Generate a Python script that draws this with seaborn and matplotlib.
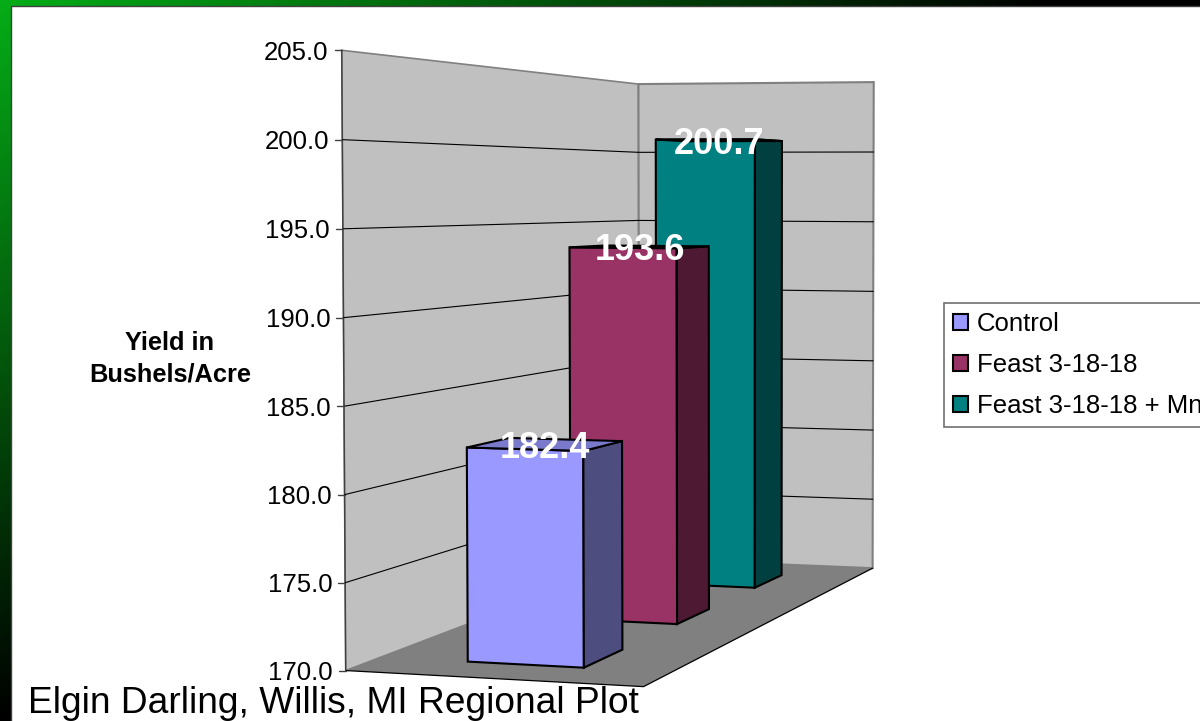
import numpy as np
import pandas as pd
import matplotlib
matplotlib.use('Agg')
import matplotlib.pyplot as plt
from matplotlib.transforms import Transform
import seaborn as sns

# Chart data
series = ['Control', 'Feast 3-18-18', 'Feast 3-18-18 + Mn']
yields = [182.4, 193.6, 200.7]
ticks = [170, 175, 180, 185, 190, 195, 200, 205]
front_colors = ['#9999FF', '#993366', '#008080']
side_colors = ['#4D4D80', '#4D1933', '#004040']
top_colors = ['#7A7ACC', '#7A2952', '#006666']
bar_depth_start = [0.095, 0.428, 0.762]

VMIN, VMAX = ticks[0], ticks[-1]
BAR_DEPTH = 0.13
BAR_WIDTH = 0.4
BAR_CENTER = 0.505

# Fit the perspective camera: (across, value, depth) -> picture pixels
world = [(0, 205, 0), (0, 170, 0), (0, 205, 1), (0, 170, 1), (1, 205, 1), (1, 170, 1), (1, 170, 0)]
pixel = [(342, 50.5), (345, 670), (638, 84), (640, 559), (874, 82), (872, 568), (644, 687)]
rows, rhs = [], []
for (u, v, z), (px, py) in zip(world, pixel):
    w = (v - VMIN) / (VMAX - VMIN)
    rows.append([u, w, z, 1, 0, 0, 0, 0, -px * u, -px * w, -px * z])
    rows.append([0, 0, 0, 0, u, w, z, 1, -py * u, -py * w, -py * z])
    rhs += [px, py]
cam = np.append(np.linalg.lstsq(np.array(rows, float), np.array(rhs, float), rcond=None)[0], 1).reshape(3, 4)


def project(u, v, z):
    u, v, z = np.broadcast_arrays(np.asarray(u, float), np.asarray(v, float), np.asarray(z, float))
    w = (v - VMIN) / (VMAX - VMIN)
    p = np.stack([u, w, z, np.ones_like(u)], axis=-1) @ cam.T
    return p[..., :2] / p[..., 2:]


class FrontFace(Transform):
    # moves a seaborn bar from its category slot onto its place in the 3D box
    input_dims = 2
    output_dims = 2

    def __init__(self, slot, z):
        super().__init__()
        self.slot = slot
        self.z = z

    def transform_non_affine(self, values):
        values = np.asarray(values, float)
        return project(values[:, 0] - self.slot + BAR_CENTER, values[:, 1], self.z)


sns.set_theme(style='white')
plt.rcParams['font.family'] = ['Liberation Sans', 'DejaVu Sans']

fig = plt.figure(figsize=(12, 7.21), dpi=100)
ax = fig.add_axes([0, 0, 1, 1])

df = pd.DataFrame({'series': series, 'yield': yields})
sns.barplot(data=df, x='series', y='yield', hue='series', palette=front_colors, saturation=1,
            width=BAR_WIDTH, dodge=False, edgecolor='black', linewidth=1.5, legend=True, ax=ax)
bars = sorted(ax.patches, key=lambda p: p.get_x())
bars = [p for p in bars if p.get_height() > 0]
ax.set_xlim(0, 1200)
ax.set_ylim(721, 0)
ax.set_axis_off()

# Slide background: green to black across the corner
yy, xx = np.mgrid[0:721, 0:1200]
t = np.clip(1 - (xx / 1050 + yy / 720), 0, 1)
grad = np.dstack([0.02 * t, 0.68 * t, 0.09 * t])
ax.imshow(grad, extent=(0, 1200, 721, 0), aspect='auto', zorder=0)
ax.set_xlim(0, 1200)
ax.set_ylim(721, 0)
ax.fill([10.5, 1201, 1201, 10.5], [5.5, 5.5, 722, 722], facecolor='white', edgecolor='#404040', lw=1, zorder=1)


def face(us, vs, zs, **kws):
    xy = project(us, vs, zs)
    ax.fill(xy[:, 0], xy[:, 1], **kws)


def line(us, vs, zs, **kws):
    xy = project(us, vs, zs)
    ax.plot(xy[:, 0], xy[:, 1], **kws)


# Walls and floor
face([0, 0, 0, 0], [VMIN, VMAX, VMAX, VMIN], [0, 0, 1, 1], facecolor='#C0C0C0', edgecolor='#808080', lw=1.2, zorder=2)
face([0, 0, 1, 1], [VMIN, VMAX, VMAX, VMIN], [1, 1, 1, 1], facecolor='#C0C0C0', edgecolor='#808080', lw=1.5, zorder=2)
face([0, 1, 1, 0], [VMIN] * 4, [0, 0, 1, 1], facecolor='#808080', edgecolor='none', zorder=2.2)
line([0, 1, 1], [VMIN] * 3, [0, 0, 1], color='black', lw=0.9, zorder=2.3)
line([0, 0], [VMIN, VMAX], [0, 0], color='#404040', lw=1, zorder=2.3)

# Gridlines, tick stubs and tick labels
for tick in ticks:
    if VMIN < tick < VMAX:
        line([0, 0, 1], [tick] * 3, [0, 1, 1], color='black', lw=0.8, zorder=3)
    x0, y0 = project(0, tick, 0)
    ax.plot([x0 - 7, x0], [y0, y0], color='#404040', lw=1, zorder=3)
    ax.text(x0 - 13, y0, f'{tick:.1f}', ha='right', va='center_baseline', fontsize=18.5, color='black', zorder=3)

# Bars: the front faces are seaborn's own patches, side and top follow from them
for i, bar in enumerate(bars):
    value = bar.get_height()
    z0, z1 = bar_depth_start[i], bar_depth_start[i] + BAR_DEPTH
    u0, u1 = BAR_CENTER - BAR_WIDTH / 2, BAR_CENTER + BAR_WIDTH / 2
    order = 6 - i
    bar.set_y(VMIN)
    bar.set_height(value - VMIN)
    bar.set_transform(FrontFace(i, z0) + ax.transData)
    bar.set_zorder(order)
    bar.set_joinstyle('miter')
    face([u1, u1, u1, u1], [VMIN, value, value, VMIN], [z0, z0, z1, z1], facecolor=side_colors[i],
         edgecolor='black', lw=1.5, joinstyle='miter', zorder=order)
    face([u0, u1, u1, u0], [value] * 4, [z0, z0, z1, z1], facecolor=top_colors[i],
         edgecolor='black', lw=1.5, joinstyle='miter', zorder=order)
    lx, ly = project(BAR_CENTER, value, (z0 + z1) / 2)
    ax.text(lx, ly, f'{value:.1f}', ha='center', va='center_baseline', fontsize=26, fontweight='bold',
            color='white', zorder=10)

# Axis title and plot caption
ax.text(170, 358.5, 'Yield in\nBushels/Acre', ha='center', va='center', fontsize=18.3, fontweight='bold',
        linespacing=1.42, color='black', zorder=10)
ax.text(28, 713, 'Elgin Darling, Willis, MI Regional Plot', ha='left', va='baseline', fontsize=26.76,
        color='black', zorder=10)

# Legend runs off the right edge as in the original
sns.move_legend(ax, 'upper left', bbox_to_anchor=(944 / 1200, 1 - 303 / 721), borderaxespad=0, title=None,
                frameon=True, fancybox=False, framealpha=1, edgecolor='#707070', fontsize=18.5,
                labelcolor='black', handlelength=0.58, handleheight=0.58, handletextpad=0.35,
                labelspacing=0.66, borderpad=0.35)
ax.get_legend().get_frame().set_linewidth(1.2)
ax.get_legend().set_zorder(20)

fig.savefig('out.png', dpi=100)
